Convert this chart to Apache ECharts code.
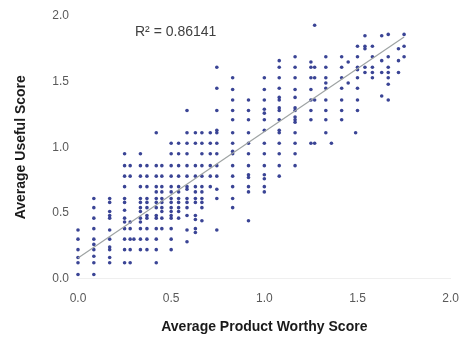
<!DOCTYPE html>
<html>
<head>
<meta charset="utf-8">
<script src="https://cdn.jsdelivr.net/npm/echarts@6/dist/echarts.min.js"></script>
<style>
  html, body { margin: 0; padding: 0; background: #ffffff; }
  #chart { width: 462px; height: 348px; }
</style>
</head>
<body>
<div id="chart"></div>
<script>
// Product worthy score (x) for each column of reviews
const columnX = [0, 0.085, 0.17, 0.25, 0.28, 0.30, 0.335, 0.37, 0.42, 0.45, 0.5, 0.54,
  0.585, 0.63, 0.665, 0.71, 0.745, 0.83, 0.915, 1.0, 1.08, 1.165, 1.25, 1.27, 1.33,
  1.36, 1.415, 1.45, 1.49, 1.5, 1.54, 1.58, 1.63, 1.665, 1.72, 1.75];

// Useful scores (y) observed at each of those x values
const columnY = [
  [0.03, 0.12, 0.16, 0.22, 0.30, 0.37],
  [0.03, 0.12, 0.17, 0.22, 0.26, 0.30, 0.38, 0.46, 0.54, 0.61],
  [0.12, 0.16, 0.22, 0.24, 0.30, 0.37, 0.46, 0.48, 0.51, 0.58, 0.61],
  [0.12, 0.22, 0.30, 0.38, 0.43, 0.46, 0.52, 0.58, 0.61, 0.70, 0.78, 0.86, 0.95],
  [0.12, 0.22, 0.30, 0.38, 0.43, 0.78, 0.86],
  [0.30],
  [0.22, 0.30, 0.38, 0.43, 0.46, 0.51, 0.54, 0.58, 0.61, 0.70, 0.78, 0.86, 0.95],
  [0.22, 0.30, 0.38, 0.46, 0.48, 0.54, 0.58, 0.61, 0.70, 0.78, 0.86],
  [0.12, 0.22, 0.30, 0.38, 0.46, 0.48, 0.54, 0.58, 0.61, 0.66, 0.70, 0.78, 0.86, 1.11],
  [0.38, 0.46, 0.51, 0.54, 0.58, 0.61, 0.66, 0.70, 0.78, 0.86],
  [0.22, 0.30, 0.38, 0.46, 0.48, 0.51, 0.54, 0.58, 0.61, 0.66, 0.70, 0.78, 0.86, 0.95, 1.03],
  [0.46, 0.51, 0.54, 0.58, 0.61, 0.66, 0.70, 0.78, 0.86, 0.95, 1.03],
  [0.28, 0.37, 0.48, 0.54, 0.58, 0.61, 0.68, 0.70, 0.78, 0.86, 0.95, 1.03, 1.11, 1.28],
  [0.35, 0.38, 0.45, 0.48, 0.58, 0.61, 0.66, 0.70, 0.78, 0.86, 1.03, 1.11],
  [0.44, 0.54, 0.58, 0.61, 0.66, 0.70, 0.78, 0.86, 0.95, 1.03, 1.11],
  [0.70, 0.78, 0.86, 0.95, 1.03, 1.11],
  [0.37, 0.61, 0.68, 0.78, 0.86, 0.95, 1.03, 1.11, 1.13, 1.28, 1.45, 1.61],
  [0.54, 0.61, 0.70, 0.78, 0.86, 0.95, 0.97, 1.03, 1.11, 1.21, 1.28, 1.36, 1.44, 1.53],
  [0.44, 0.66, 0.70, 0.77, 0.79, 0.86, 0.95, 1.03, 1.11, 1.21, 1.28, 1.36],
  [0.66, 0.70, 0.76, 0.79, 0.86, 0.95, 1.03, 1.13, 1.21, 1.26, 1.29, 1.36, 1.44, 1.53],
  [0.78, 0.86, 0.95, 1.03, 1.11, 1.13, 1.21, 1.28, 1.30, 1.36, 1.38, 1.45, 1.53, 1.61, 1.66],
  [0.86, 0.95, 1.03, 1.11, 1.19, 1.21, 1.23, 1.28, 1.30, 1.38, 1.44, 1.53, 1.61, 1.69],
  [1.03, 1.21, 1.28, 1.36, 1.44, 1.53, 1.61, 1.65],
  [1.03, 1.36, 1.53, 1.61, 1.93],
  [1.11, 1.21, 1.28, 1.36, 1.45, 1.49, 1.53, 1.61, 1.69],
  [1.03],
  [1.21, 1.28, 1.36, 1.45, 1.53, 1.61, 1.69],
  [1.49, 1.65],
  [1.11],
  [1.28, 1.36, 1.45, 1.53, 1.59, 1.61, 1.69, 1.77],
  [1.57, 1.61, 1.75, 1.77, 1.85],
  [1.53, 1.57, 1.61, 1.69, 1.77],
  [1.39, 1.57, 1.66, 1.85],
  [1.36, 1.48, 1.53, 1.57, 1.61, 1.69, 1.86],
  [1.57, 1.66, 1.75],
  [1.69, 1.77, 1.86]
];

// Linear trend line fitted to the scores
const trendSlope = 0.962;
const trendIntercept = 0.156;
const trendRange = [0, 1.75];
const rSquaredText = 'R\u00B2 = 0.86141';

// Axis tick values
const axisTicks = [0, 0.5, 1.0, 1.5, 2.0];

const points = [];
columnX.forEach((x, i) => {
  columnY[i].forEach(y => points.push([x, y]));
});

const trendPoints = trendRange.map(x => [x, trendSlope * x + trendIntercept]);

const chart = echarts.init(document.getElementById('chart'), null, { renderer: 'canvas' });

const labelFont = { color: '#595959', fontSize: 12, fontFamily: 'Liberation Sans' };

chart.setOption({
  animation: false,
  backgroundColor: '#ffffff',
  grid: { left: 78, right: 8, top: 16, bottom: 69.5 },
  xAxis: {
    type: 'value',
    min: axisTicks[0],
    max: axisTicks[axisTicks.length - 1],
    interval: axisTicks[1] - axisTicks[0],
    name: 'Average Product Worthy Score',
    nameLocation: 'middle',
    nameGap: 42,
    nameTextStyle: { color: '#1a1a1a', fontSize: 14, fontWeight: 'bold', fontFamily: 'Liberation Sans' },
    axisLine: { show: true, lineStyle: { color: '#efefef', width: 1 } },
    axisTick: { show: false },
    splitLine: { show: false },
    axisLabel: Object.assign({ margin: 14, formatter: v => v.toFixed(1) }, labelFont)
  },
  yAxis: {
    type: 'value',
    min: axisTicks[0],
    max: axisTicks[axisTicks.length - 1],
    interval: axisTicks[1] - axisTicks[0],
    name: 'Average Useful Score',
    nameLocation: 'middle',
    nameGap: 50,
    nameTextStyle: { color: '#1a1a1a', fontSize: 14, fontWeight: 'bold', fontFamily: 'Liberation Sans' },
    axisLine: { show: false },
    axisTick: { show: false },
    splitLine: { show: false },
    axisLabel: Object.assign({ margin: 9, formatter: v => v.toFixed(1) }, labelFont)
  },
  series: [
    {
      type: 'scatter',
      data: points,
      symbol: 'circle',
      symbolSize: 3.6,
      itemStyle: { color: '#2f3a8f', opacity: 0.95 },
      silent: true,
      z: 2
    },
    {
      type: 'line',
      data: trendPoints,
      showSymbol: false,
      lineStyle: { color: '#9ea3a3', width: 1.2 },
      silent: true,
      z: 3
    }
  ],
  graphic: [
    {
      type: 'text',
      left: 135,
      top: 25,
      style: {
        text: rSquaredText,
        fill: '#404040',
        font: '14px "Liberation Sans"'
      }
    }
  ]
});
</script>
</body>
</html>
